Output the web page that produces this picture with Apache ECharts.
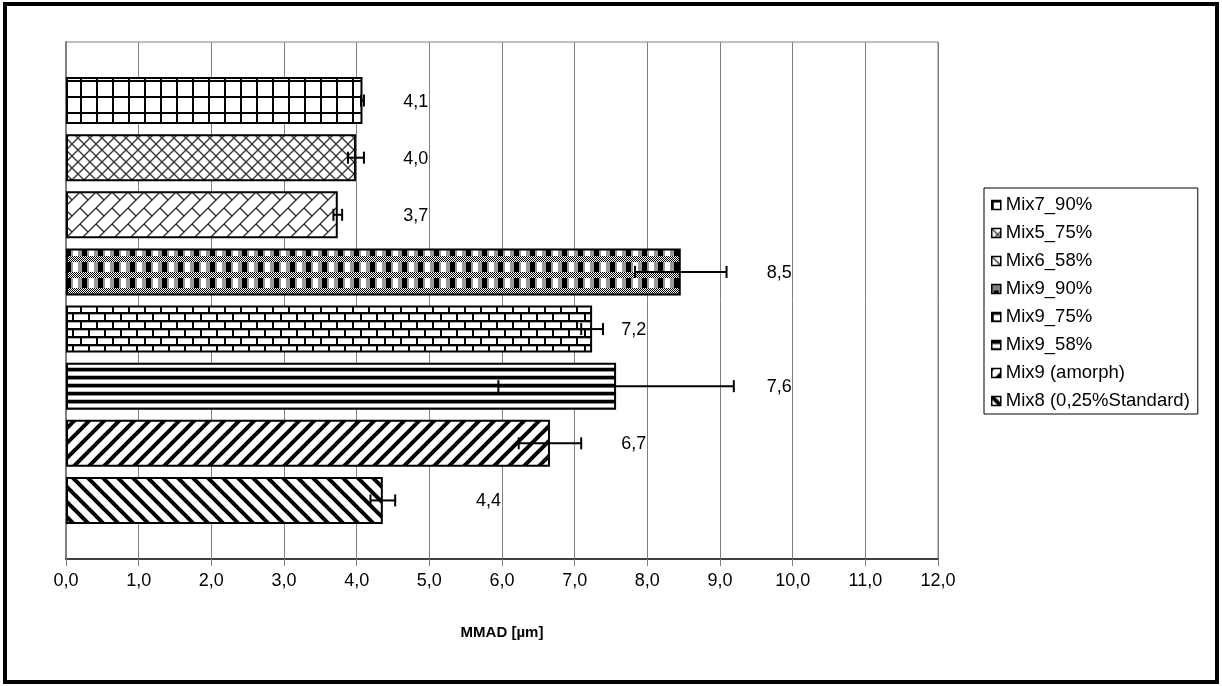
<!DOCTYPE html>
<html>
<head>
<meta charset="utf-8">
<script src="https://cdn.jsdelivr.net/npm/echarts@6/dist/echarts.min.js"></script>
<style>
html,body{margin:0;padding:0;background:#fff;}
#frame{position:absolute;left:3px;top:2px;width:1216px;height:682px;border:4px solid #000;box-sizing:border-box;}
#chart{position:absolute;left:0;top:0;width:1222px;height:686px;}
</style>
</head>
<body>
<div id="chart"></div>
<div id="frame"></div>
<script>
// Categories from bottom to top
const categories = ['Mix8 (0,25%Standard)', 'Mix9 (amorph)', 'Mix9_58%', 'Mix9_75%', 'Mix9_90%', 'Mix6_58%', 'Mix5_75%', 'Mix7_90%'];
const mmad = [4.36, 6.66, 7.57, 7.24, 8.46, 3.74, 3.99, 4.08];
const sd = [0.17, 0.43, 1.62, 0.15, 0.63, 0.06, 0.11, 0.02];
const labelAnchor = [6, 8, 10, 8, 10, 5, 5, 5];
const xTicks = [0, 12, 1];
const legendOrder = ['Mix7_90%', 'Mix5_75%', 'Mix6_58%', 'Mix9_90%', 'Mix9_75%', 'Mix9_58%', 'Mix9 (amorph)', 'Mix8 (0,25%Standard)'];

const FONT = "'Liberation Sans', Arial, sans-serif";
const fmt = v => v.toFixed(1).replace('.', ',');

function tile(w, h, draw) {
  const c = document.createElement('canvas');
  c.width = w; c.height = h;
  const g = c.getContext('2d');
  g.fillStyle = '#fff'; g.fillRect(0, 0, w, h);
  draw(g, w, h);
  return { image: c, repeat: 'repeat' };
}
function line(g, x1, y1, x2, y2) { g.beginPath(); g.moveTo(x1, y1); g.lineTo(x2, y2); g.stroke(); }

const patterns = {
  'Mix7_90%': tile(16, 16, g => { g.fillStyle = '#000'; g.fillRect(0, 0, 16, 2); g.fillRect(0, 0, 2, 16); }),
  'Mix5_75%': tile(12, 12, g => {
    g.strokeStyle = '#333'; g.lineWidth = 1.3;
    for (const d of [-12, 0, 12]) { line(g, d, 0, d + 12, 12); line(g, d, 12, d + 12, 0); }
  }),
  'Mix6_58%': tile(16, 16, g => {
    g.strokeStyle = '#333'; g.lineWidth = 1.4;
    for (const d of [-16, 0, 16]) line(g, d, 16, d + 16, 0);
    line(g, 0, 0, 8, 8); line(g, 16, 0, 24, 8); line(g, 0, 16, 8, 24); line(g, -8, 8, 0, 16);
  }),
  'Mix9_90%': tile(16, 16, g => {
    for (let y = 0; y < 16; y++) for (let x = 0; x < 16; x++) {
      const dither = (x + y) % 2 === 0 ? '#000' : '#fff';
      let col;
      if (y < 6) col = dither;
      else if (x >= 2 && x < 7) col = '#000';
      else if (x >= 9 && x < 14) col = '#fff';
      else col = '#999';
      g.fillStyle = col; g.fillRect(x, y, 1, 1);
    }
  }),
  'Mix9_75%': tile(16, 16, g => {
    g.fillStyle = '#000';
    g.fillRect(0, 0, 16, 2); g.fillRect(0, 8, 16, 2);
    g.fillRect(0, 0, 2, 8); g.fillRect(8, 8, 2, 8);
    g.fillStyle = '#aaa';
    g.fillRect(2, 2, 14, 1); g.fillRect(0, 10, 8, 1); g.fillRect(10, 10, 6, 1);
  }),
  'Mix9_58%': tile(8, 8, g => {
    g.fillStyle = '#000'; g.fillRect(0, 0, 8, 3);
    g.fillStyle = '#888'; g.fillRect(0, 3, 8, 1);
    g.fillStyle = '#bbb'; g.fillRect(0, 7, 8, 1);
  }),
  'Mix9 (amorph)': tile(15, 15, g => {
    g.strokeStyle = '#000'; g.lineWidth = 4;
    for (const d of [-15, 0, 15]) line(g, d - 2, 17, d + 17, -2);
  }),
  'Mix8 (0,25%Standard)': tile(15, 15, g => {
    g.strokeStyle = '#000'; g.lineWidth = 4;
    for (const d of [-15, 0, 15]) line(g, d - 2, -2, d + 17, 17);
  })
};

const barSeries = categories.map((name, i) => ({
  name: name,
  type: 'bar',
  xAxisIndex: 1, yAxisIndex: 1,
  barWidth: 47,
  barGap: '-100%',
  data: categories.map((c, j) => (j === i ? mmad[i] : '-')),
  itemStyle: { color: patterns[name], borderColor: '#000', borderWidth: 2 },
  z: 2
}));

const errSeries = {
  type: 'custom',
  xAxisIndex: 1, yAxisIndex: 1,
  z: 5,
  encode: { x: 0, y: 2 },
  data: categories.map((c, i) => [mmad[i], sd[i], i, labelAnchor[i]]),
  renderItem: function (params, api) {
    const v = api.value(0), e = api.value(1), idx = api.value(2), la = api.value(3);
    const p0 = api.coord([v - e, idx]);
    const p1 = api.coord([v + e, idx]);
    const pl = api.coord([la, idx]);
    const y = p0[1];
    const cap = 6;
    const st = { stroke: '#000', lineWidth: 2 };
    return {
      type: 'group',
      children: [
        { type: 'line', shape: { x1: p0[0], y1: y, x2: p1[0], y2: y }, style: st },
        { type: 'line', shape: { x1: p0[0], y1: y - cap, x2: p0[0], y2: y + cap }, style: st },
        { type: 'line', shape: { x1: p1[0], y1: y - cap, x2: p1[0], y2: y + cap }, style: st },
        { type: 'text', x: pl[0] - 1, y: y + 1, style: { text: fmt(v), align: 'right', verticalAlign: 'middle', fontSize: 18, fontFamily: FONT, fill: '#000' } }
      ]
    };
  }
};

const chart = echarts.init(document.getElementById('chart'), null, { renderer: 'canvas' });
chart.setOption({
  animation: false,
  backgroundColor: '#fff',
  grid: [
    { left: 66, top: 42, width: 872, height: 517, show: true, borderColor: '#808080', borderWidth: 1, backgroundColor: 'transparent' },
    { left: 66, top: 72, width: 872, height: 457 }
  ],
  xAxis: [
    {
      gridIndex: 0, type: 'value', min: xTicks[0], max: xTicks[1], interval: xTicks[2],
      axisLine: { show: true, lineStyle: { color: '#404040', width: 2 } },
      axisTick: { show: true, length: 7, lineStyle: { color: '#808080' } },
      splitLine: { show: true, lineStyle: { color: '#808080', width: 1 } },
      axisLabel: { formatter: v => fmt(v), fontSize: 18, color: '#000', fontFamily: FONT, margin: 13 },
      name: 'MMAD [µm]', nameLocation: 'middle', nameGap: 66,
      nameTextStyle: { fontWeight: 'bold', fontSize: 15, color: '#000', fontFamily: FONT }
    },
    { gridIndex: 1, type: 'value', min: xTicks[0], max: xTicks[1], show: false }
  ],
  yAxis: [
    {
      gridIndex: 0, type: 'category', data: [''],
      axisLine: { show: true, lineStyle: { color: '#808080', width: 2 } },
      axisTick: { show: false }, axisLabel: { show: false }, splitLine: { show: false }
    },
    { gridIndex: 1, type: 'category', data: categories, show: false }
  ],
  legend: {
    orient: 'vertical',
    left: 984, top: 188,
    data: legendOrder,
    itemWidth: 9, itemHeight: 9, itemGap: 8,
    icon: 'rect',
    itemStyle: { borderColor: '#000', borderWidth: 1.5 },
    borderColor: '#000', borderWidth: 1,
    padding: [7, 8, 3, 7],
    textStyle: { fontSize: 18.5, color: '#000', fontFamily: FONT, lineHeight: 20 },
    selectedMode: false
  },
  series: barSeries.concat([errSeries])
});
</script>
</body>
</html>
